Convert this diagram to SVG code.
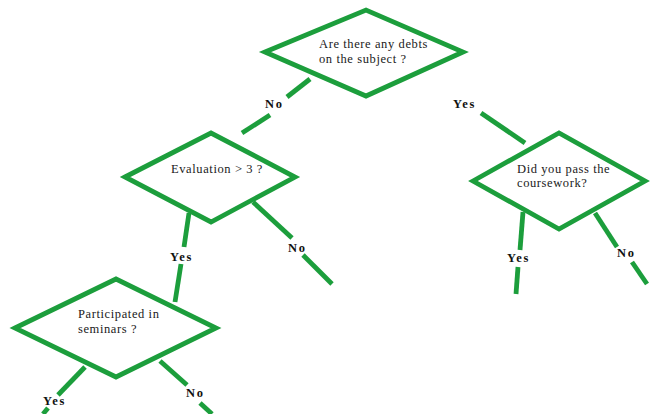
<svg xmlns="http://www.w3.org/2000/svg" width="654" height="414" viewBox="0 0 654 414">
<style>
.shape{fill:#fff;stroke:#1c9e3c;stroke-width:4.8;stroke-linejoin:miter}
.con line{stroke:#1c9e3c;stroke-width:4.8;stroke-linecap:butt}
.q{font-family:"Liberation Serif",serif;font-size:12.5px;fill:#1a1a1a;letter-spacing:0.6px}
.lbl{font-family:"Liberation Serif",serif;font-size:12.5px;font-weight:bold;fill:#111;letter-spacing:1.6px}
</style>
<rect width="654" height="414" fill="#fff"/>
<g id="connectors" class="con">
<line x1="310" y1="79" x2="287" y2="97"/>
<line x1="270" y1="115" x2="242" y2="133"/>
<line x1="481" y1="113" x2="525" y2="143"/>
<line x1="189" y1="213" x2="184" y2="247"/>
<line x1="181" y1="264" x2="175" y2="302"/>
<line x1="253" y1="202" x2="292" y2="238"/>
<line x1="303" y1="255" x2="332" y2="284"/>
<line x1="523" y1="212" x2="520" y2="250"/>
<line x1="518" y1="267" x2="516" y2="294"/>
<line x1="595" y1="213" x2="617" y2="247"/>
<line x1="632" y1="262" x2="647" y2="284"/>
<line x1="85" y1="367" x2="58" y2="395"/>
<line x1="48" y1="408" x2="43" y2="414"/>
<line x1="160" y1="361" x2="187" y2="385"/>
<line x1="200" y1="403" x2="212" y2="414"/>
</g>
<g id="n1">
<polygon class="shape" points="265,52 366,10 463,52 366,96"/>
<text class="q" x="319" y="48">Are there any debts</text>
<text class="q" x="319" y="63">on the subject ?</text>
</g>
<g id="n2">
<polygon class="shape" points="125,177 211,133 295,177 211,222"/>
<text class="q" x="171" y="173">Evaluation &gt; 3 ?</text>
</g>
<g id="n3">
<polygon class="shape" points="473,181 559,133 645,181 559,229"/>
<text class="q" x="517" y="173">Did you pass the</text>
<text class="q" x="517" y="187">coursework?</text>
</g>
<g id="n4">
<polygon class="shape" points="15,328 116,279 216,328 116,377"/>
<text class="q" x="78" y="318">Participated in</text>
<text class="q" x="78" y="333">seminars ?</text>
</g>
<g id="labels">
<text class="lbl" x="265" y="108">No</text>
<text class="lbl" x="453" y="108">Yes</text>
<text class="lbl" x="170" y="261">Yes</text>
<text class="lbl" x="288" y="252">No</text>
<text class="lbl" x="507" y="262">Yes</text>
<text class="lbl" x="617" y="257">No</text>
<text class="lbl" x="43" y="405">Yes</text>
<text class="lbl" x="186" y="397">No</text>
</g>
</svg>
